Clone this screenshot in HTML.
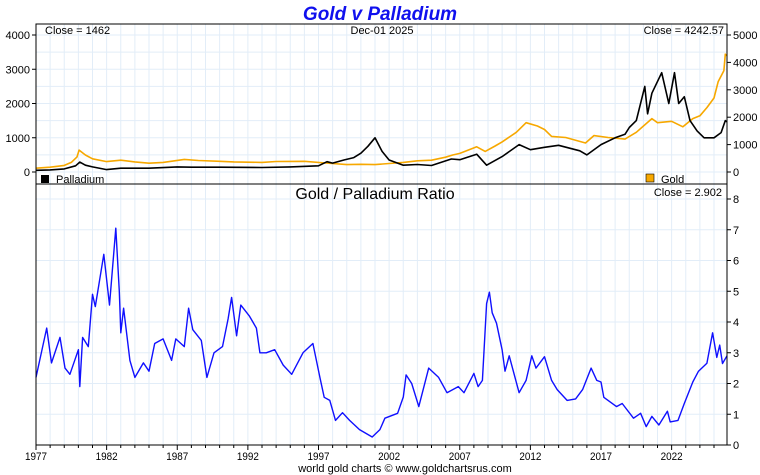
<!DOCTYPE html>
<html><head><meta charset="utf-8"><style>
html,body{margin:0;padding:0;background:#fff}
svg{display:block;font-family:"Liberation Sans",sans-serif}
</style></head><body>
<svg id="chart" width="760" height="475" viewBox="0 0 760 475" xmlns="http://www.w3.org/2000/svg">
<text x="380" y="20" text-anchor="middle" font-size="19" font-weight="bold" font-style="italic" fill="#1010ee">Gold v Palladium</text>
<g id="grid"></g>
<g id="series"></g>
<g id="axes"></g>
<text x="45" y="34" font-size="11" fill="#000">Close = 1462</text>
<text x="382" y="34" text-anchor="middle" font-size="11" fill="#000">Dec-01  2025</text>
<text x="724" y="34" text-anchor="end" font-size="11" fill="#000">Close = 4242.57</text>
<rect x="41" y="175" width="8" height="8" fill="#000"/>
<text x="56" y="183" font-size="11" fill="#000">Palladium</text>
<rect x="646" y="174" width="8" height="8" fill="#f7a800" stroke="#000" stroke-width="0.6"/>
<text x="661" y="183" font-size="11" fill="#000">Gold</text>
<text x="375" y="199" text-anchor="middle" font-size="16" fill="#000">Gold  /  Palladium Ratio</text>
<text x="722" y="196" text-anchor="end" font-size="11" fill="#000">Close = 2.902</text>
<text x="405" y="472" text-anchor="middle" font-size="11" fill="#000">world gold charts © www.goldchartsrus.com</text>
</svg>
<script>
const goldYears=[1977,1978,1979,1979.5,1979.9,1980.05,1980.5,1981,1982,1983,1984,1985,1986,1987.5,1988.5,1990,1991,1993,1994,1996,1997.5,1999,2000,2001,2002,2003,2004,2005,2006,2006.5,2007,2008,2008.2,2008.8,2009.5,2010,2011,2011.7,2012.5,2013,2013.5,2014.5,2015.9,2016.5,2017.5,2018.7,2019.5,2020.6,2021,2022,2022.8,2023.5,2024,2024.5,2025,2025.3,2025.7,2025.8,2025.92];
const goldValues=[140,175,240,350,550,800,620,480,380,430,370,320,350,460,420,390,370,350,385,390,330,270,280,270,310,350,410,430,540,620,680,880,920,750,950,1100,1450,1800,1680,1550,1300,1260,1060,1330,1260,1200,1450,1950,1800,1850,1650,1950,2050,2350,2700,3300,3700,4300,4240];
const palYears=[1977,1978,1979,1979.8,1980.1,1980.5,1981,1982,1983,1985,1987,1988,1990,1993,1995,1997,1997.6,1998,1998.8,1999.5,2000,2000.5,2001,2001.5,2002,2003,2004,2005,2006.4,2007,2008.2,2008.9,2010,2011.2,2012,2013,2014,2015.5,2016,2017,2018,2018.7,2019,2019.5,2020.1,2020.3,2020.6,2021.3,2021.8,2022.2,2022.5,2022.9,2023.3,2023.8,2024.3,2025,2025.5,2025.8,2025.92];
const palValues=[50,60,90,180,290,200,150,70,110,110,150,140,140,130,150,180,300,260,350,420,550,750,1000,600,350,200,220,190,380,360,520,200,450,800,650,720,780,620,500,800,1000,1100,1300,1500,2500,1700,2300,2900,2000,2900,2000,2200,1500,1200,1000,1000,1150,1500,1462];
const ratioYears=[1977,1977.76,1978.1,1978.7,1979.05,1979.4,1980,1980.1,1980.3,1980.7,1981,1981.2,1981.8,1982.2,1982.65,1982.9,1983,1983.2,1983.65,1984,1984.6,1985,1985.4,1986,1986.6,1986.9,1987.5,1987.8,1988.1,1988.7,1989.1,1989.6,1990.2,1990.6,1990.85,1991.2,1991.5,1992.1,1992.6,1992.85,1993.3,1993.9,1994.5,1995.1,1995.9,1996.6,1997.1,1997.4,1997.8,1998.2,1998.7,1999.2,1999.9,2000.8,2001.35,2001.7,2002.6,2003,2003.2,2003.6,2004.1,2004.8,2005.5,2006.1,2006.9,2007.3,2008,2008.3,2008.6,2008.9,2009.1,2009.3,2009.6,2010,2010.2,2010.5,2011.2,2011.7,2012.1,2012.4,2013,2013.5,2013.9,2014.6,2015.2,2015.7,2016.3,2016.7,2017,2017.2,2018.1,2018.5,2019.3,2019.8,2020.2,2020.6,2021.1,2021.7,2021.9,2022.45,2022.9,2023.5,2023.9,2024.5,2024.9,2025.2,2025.4,2025.6,2025.92];
const ratioValues=[2.2,3.8,2.67,3.5,2.5,2.3,3.1,1.9,3.5,3.2,4.9,4.5,6.2,4.55,7.05,5.0,3.65,4.45,2.75,2.2,2.67,2.4,3.3,3.45,2.75,3.45,3.2,4.45,3.75,3.4,2.2,3.0,3.2,4.1,4.8,3.55,4.55,4.2,3.8,3.0,3.0,3.1,2.6,2.3,3.0,3.3,2.2,1.55,1.45,0.8,1.05,0.8,0.5,0.26,0.5,0.87,1.03,1.56,2.28,2.0,1.25,2.5,2.2,1.7,1.9,1.7,2.33,1.9,2.1,4.6,4.97,4.3,3.96,3.1,2.4,2.9,1.7,2.1,2.9,2.5,2.87,2.1,1.8,1.45,1.5,1.8,2.5,2.1,2.05,1.55,1.25,1.35,0.87,1.03,0.6,0.93,0.65,1.1,0.75,0.8,1.35,2.05,2.4,2.66,3.65,2.85,3.25,2.65,2.902];
const xTickYears=[1977,1982,1987,1992,1997,2002,2007,2012,2017,2022];
const leftTicks=[0,1000,2000,3000,4000];
const rightTicks=[0,1000,2000,3000,4000,5000];
const ratioTicks=[0,1,2,3,4,5,6,7,8];

const NS="http://www.w3.org/2000/svg";
const X0=36,X1=727,T0=24,T1=184,B1=445;
const x=y=>X0+(y-1977)*(X1-X0)/(2025.92-1977);
const yPal=v=>172-v*137/4000;
const yGold=v=>172-v*137/5000;
const yRat=v=>B1-v*(B1-199)/8;
function mk(parent,tag,attrs){const e=document.createElementNS(NS,tag);for(const k in attrs)e.setAttribute(k,attrs[k]);document.getElementById(parent).appendChild(e);return e;}

// grid
for(let yr=1977;yr<=2025;yr++){
  const gx=x(yr);
  const g=mk('grid','line',{x1:gx,x2:gx,y1:T0,y2:B1,stroke:'#e2edf8','stroke-width':1});
  
  
}
leftTicks.forEach(v=>{for(const h of [0,500]){const yy=yPal(v+h);if(yy<T0)continue;
  const g=mk('grid','line',{x1:X0,x2:X1,y1:yy,y2:yy,stroke:'#e2edf8'});
  
  }});
ratioTicks.forEach(v=>{const yy=yRat(v);
  const g=mk('grid','line',{x1:X0,x2:X1,y1:yy,y2:yy,stroke:'#e2edf8'});
  
  });

function path(xs,vs,fy){return xs.map((t,i)=>(i?'L':'M')+x(t).toFixed(1)+','+fy(vs[i]).toFixed(1)).join('');}
const gp=mk('series','path',{d:path(goldYears,goldValues,yGold),fill:'none',stroke:'#f7a800','stroke-width':1.6,'stroke-linejoin':'round'});


const pp=mk('series','path',{d:path(palYears,palValues,yPal),fill:'none',stroke:'#000','stroke-width':1.6,'stroke-linejoin':'round'});


const rp=mk('series','path',{d:path(ratioYears,ratioValues,yRat),fill:'none',stroke:'#1010ff','stroke-width':1.4,'stroke-linejoin':'round'});



// frames
const f1=mk('axes','rect',{x:X0,y:T0,width:X1-X0,height:T1-T0,fill:'none',stroke:'#000','stroke-width':1});


const f2=mk('axes','rect',{x:X0,y:T1,width:X1-X0,height:B1-T1,fill:'none',stroke:'#000','stroke-width':1});



leftTicks.forEach(v=>{const yy=yPal(v);
  mk('axes','line',{x1:X0-4,x2:X0,y1:yy,y2:yy,stroke:'#000'});
  const t=mk('axes','text',{x:X0-6,y:yy+4,'text-anchor':'end','font-size':11});
  t.textContent=v;
  
  });
rightTicks.forEach(v=>{const yy=yGold(v);
  mk('axes','line',{x1:X1,x2:X1+4,y1:yy,y2:yy,stroke:'#000'});
  const t=mk('axes','text',{x:X1+6,y:yy+4,'font-size':11});
  t.textContent=v;
  
  });
ratioTicks.forEach(v=>{const yy=yRat(v);
  mk('axes','line',{x1:X1,x2:X1+4,y1:yy,y2:yy,stroke:'#000'});
  const t=mk('axes','text',{x:X1+6,y:yy+4,'font-size':11});
  t.textContent=v;
  
  });
for(let yr=1977;yr<=2025;yr++){const gx=x(yr);
  mk('axes','line',{x1:gx,x2:gx,y1:B1,y2:B1+(yr%5===2?5:3),stroke:'#000'});}
xTickYears.forEach(yr=>{
  const t=mk('axes','text',{x:x(yr),y:B1+15,'text-anchor':'middle','font-size':11,transform:'scale(0.9,1)'});
  t.setAttribute('x',x(yr)/0.9);
  t.textContent=yr;
  
  });
</script>
</body></html>
